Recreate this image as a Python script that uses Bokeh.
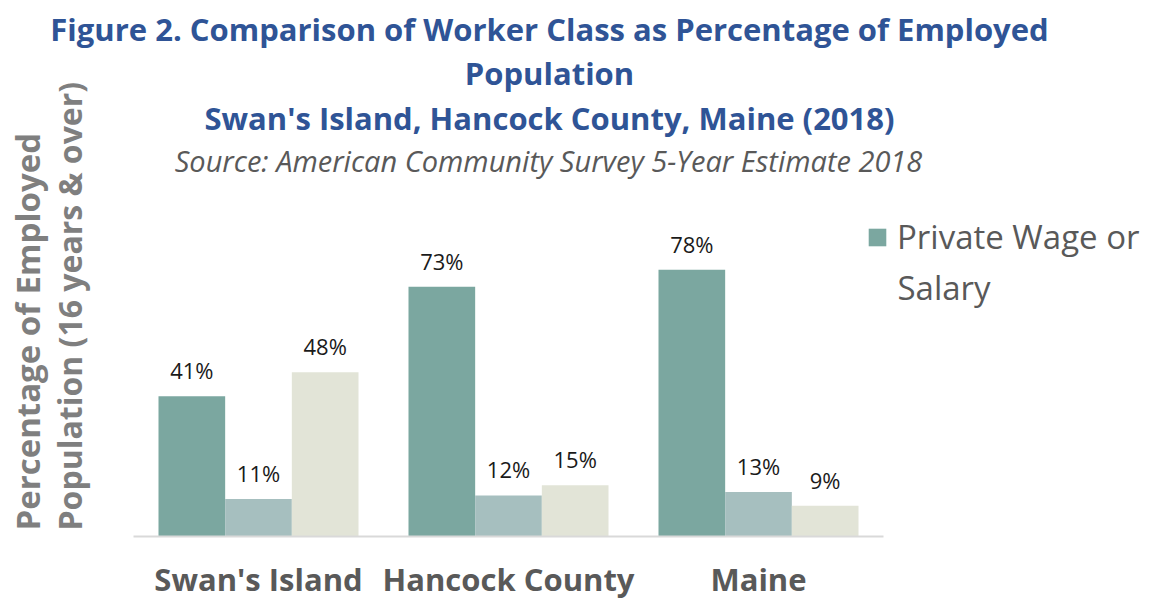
import math
from bokeh.plotting import figure
from bokeh.models import ColumnDataSource, Range1d, Label, Legend, LegendItem
from bokeh.core.properties import value
from bokeh.embed import file_html
from bokeh.resources import INLINE

# ---- data ----
places = ["Swan's Island", "Hancock County", "Maine"]
series_names = ["Private Wage or Salary", "Government Workers", "Self-Employed"]
private_wage = [41, 73, 78]
government = [11, 12, 13]
self_employed = [48, 15, 9]
colors = ["#7BA7A0", "#A6BFBF", "#E2E4D7"]

title_lines = ["Figure 2. Comparison of Worker Class as Percentage of Employed",
               "Population",
               "Swan's Island, Hancock County, Maine (2018)"]
subtitle = "Source: American Community Survey 5-Year Estimate 2018"
ylabel_lines = ["Percentage of Employed", "Population (16 years & over)"]

# ---- layout constants (pixel geometry of the canvas) ----
W, H = 1149, 600
PX_X = 250.0          # pixels per category
PX_Y = 3.42           # pixels per percentage point
X0 = 133              # pixel x of category axis start
Y0 = 536              # pixel y of baseline

def px_x(page_x):
    return (page_x - X0) / PX_X

def px_y(page_y):
    return (Y0 - page_y) / PX_Y

p = figure(x_range=Range1d(px_x(0), px_x(W)), y_range=Range1d(px_y(H), px_y(0)),
           width=W, height=H, output_backend="svg", toolbar_location=None,
           x_axis_type=None, y_axis_type=None,
           min_border=0)
p.outline_line_color = None
p.grid.visible = False
p.background_fill_color = "white"

xs = [i + 0.5 for i in range(len(places))]
bw = 0.8 / 3
series = [private_wage, government, self_employed]
renderers = []
for i, vals in enumerate(series):
    off = (i - 1) * bw
    src = ColumnDataSource(dict(x=[x + off for x in xs], top=vals,
                                lab=[f"{v}%" for v in vals]))
    r = p.vbar(x="x", top="top", bottom=0, width=bw, source=src,
               fill_color=colors[i], line_color=None)
    renderers.append(r)
    p.text(x="x", y="top", text="lab", source=src,
           text_align="center", text_baseline="middle", y_offset=-26,
           text_font=value("Open Sans"), text_font_size="22px", text_color="#1A1A1A")

# category axis line
p.segment(x0=[0], y0=[0], x1=[len(places)], y1=[0], line_color="#D9D9D9", line_width=2)

# category labels
p.text(x=xs, y=[px_y(578)] * len(places), text=places, text_align="center",
       text_baseline="middle", text_font=value("Open Sans"), text_font_style="bold",
       text_font_size="31px", text_color="#595959")

# legend (only first series visible, as in reference)
legend = Legend(items=[LegendItem(label="Private Wage or", renderers=[renderers[0]])],
                location=(866, H - 259), padding=0, margin=0, spacing=0,
                glyph_width=22, glyph_height=22, label_standoff=9,
                label_text_font="Open Sans", label_text_font_size="33px",
                label_text_color="#595959", border_line_color=None,
                background_fill_alpha=0)
p.add_layout(legend, "center")
p.add_layout(Label(x=px_x(897), y=px_y(287), text="Salary", text_align="left",
                   text_baseline="middle", text_font="Open Sans", text_font_size="33px",
                   text_color="#595959"))

# titles
title_y = [28, 72, 117]
for t, yy in zip(title_lines, title_y):
    p.add_layout(Label(x=px_x(549), y=px_y(yy), text=t, text_align="center",
                       text_baseline="middle", text_font="Open Sans", text_font_style="bold",
                       text_font_size="31px", text_color="#2F5496"))
p.add_layout(Label(x=px_x(548), y=px_y(160), text=subtitle, text_align="center",
                   text_baseline="middle", text_font="Open Sans", text_font_style="italic",
                   text_font_size="29px", text_color="#595959"))

# y axis title (two rotated lines)
for t, xx, fs in zip(ylabel_lines, [27, 69], ["33px", "32px"]):
    p.add_layout(Label(x=px_x(xx), y=px_y(530), text=t, angle=math.pi / 2,
                       text_align="left", text_baseline="middle", text_font="Open Sans",
                       text_font_style="bold", text_font_size=fs, text_color="#7F7F7F"))

open("out.html", "w").write(file_html(p, INLINE))
